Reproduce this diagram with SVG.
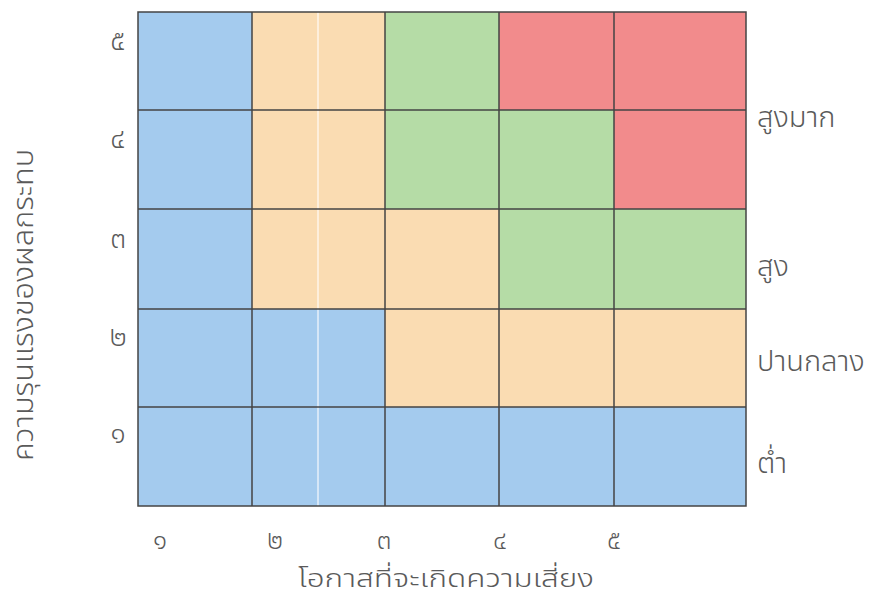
<svg xmlns="http://www.w3.org/2000/svg" width="871" height="597" viewBox="0 0 871 597">
<style>
.b{fill:#a4cbee}.p{fill:#fadcb2}.g{fill:#b5dca6}.r{fill:#f28b8c}
.t{font-family:"Noto Sans Thai","Noto Sans","DejaVu Sans",sans-serif;fill:#5a5a5a;font-weight:300}
.n{font-size:28px;text-anchor:middle}
.lab{font-size:29px}
.grid{stroke:#444;stroke-width:1.5;fill:none}
</style>
<rect width="871" height="597" fill="#fff"/>
<g id="cells">
<rect class="b" x="138" y="12" width="114" height="98"/>
<rect class="p" x="252" y="12" width="133" height="98"/>
<rect class="g" x="385" y="12" width="114" height="98"/>
<rect class="r" x="499" y="12" width="115" height="98"/>
<rect class="r" x="614" y="12" width="132" height="98"/>
<rect class="b" x="138" y="110" width="114" height="99"/>
<rect class="p" x="252" y="110" width="133" height="99"/>
<rect class="g" x="385" y="110" width="114" height="99"/>
<rect class="g" x="499" y="110" width="115" height="99"/>
<rect class="r" x="614" y="110" width="132" height="99"/>
<rect class="b" x="138" y="209" width="114" height="100"/>
<rect class="p" x="252" y="209" width="133" height="100"/>
<rect class="p" x="385" y="209" width="114" height="100"/>
<rect class="g" x="499" y="209" width="115" height="100"/>
<rect class="g" x="614" y="209" width="132" height="100"/>
<rect class="b" x="138" y="309" width="114" height="98"/>
<rect class="b" x="252" y="309" width="133" height="98"/>
<rect class="p" x="385" y="309" width="114" height="98"/>
<rect class="p" x="499" y="309" width="115" height="98"/>
<rect class="p" x="614" y="309" width="132" height="98"/>
<rect class="b" x="138" y="407" width="114" height="99"/>
<rect class="b" x="252" y="407" width="133" height="99"/>
<rect class="b" x="385" y="407" width="114" height="99"/>
<rect class="b" x="499" y="407" width="115" height="99"/>
<rect class="b" x="614" y="407" width="132" height="99"/>
<line x1="318" y1="12" x2="318" y2="506" stroke="#fff" stroke-opacity="0.55" stroke-width="2"/>
</g>
<g id="grid" class="grid">
<rect x="138" y="12" width="608" height="494"/>
<path d="M252 12V506M385 12V506M499 12V506M614 12V506M138 110H746M138 209H746M138 309H746M138 407H746"/>
</g>
<g id="yticks" class="t n">
<text x="118" y="50">๕</text>
<text x="118" y="148">๔</text>
<text x="118" y="248">๓</text>
<text x="118" y="346">๒</text>
<text x="118" y="443">๑</text>
</g>
<g id="xticks" class="t n" style="font-size:26px">
<text x="160" y="549">๑</text>
<text x="275" y="549">๒</text>
<text x="384" y="549">๓</text>
<text x="500" y="549">๔</text>
<text x="614" y="549">๕</text>
</g>
<g id="levels" class="t lab">
<text x="757" y="127">สูงมาก</text>
<text x="757" y="276">สูง</text>
<text x="757" y="371">ปานกลาง</text>
<text x="757" y="473">ต่ำ</text>
</g>
<g id="axis-titles" class="t">
<text x="446" y="587" font-size="25" text-anchor="middle" textLength="296" lengthAdjust="spacingAndGlyphs">โอกาสที่จะเกิดความเสี่ยง</text>
<text transform="translate(33 305) rotate(-90)" font-size="28" text-anchor="middle" textLength="312" lengthAdjust="spacingAndGlyphs">ความรุนแรงของผลกระทบ</text>
</g>
</svg>
